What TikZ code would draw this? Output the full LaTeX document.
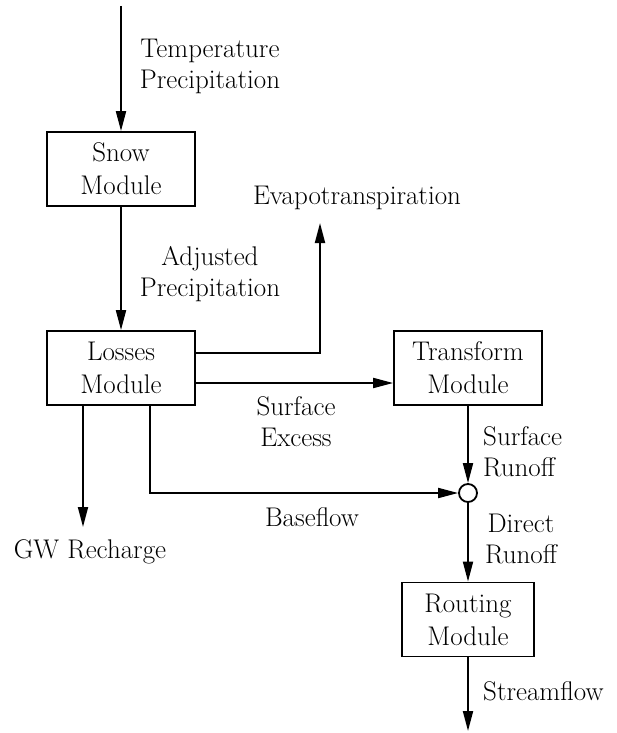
\documentclass[tikz,border=0pt]{standalone}
\usetikzlibrary{arrows.meta}
\begin{document}
\begin{tikzpicture}[x=1pt,y=-1pt,
  module/.style={draw,line width=1.8pt,minimum height=74pt,align=center,inner sep=0pt,font=\fontsize{27}{33}\selectfont},
  lbl/.style={align=center,inner sep=0pt,font=\fontsize{27}{31}\selectfont},
  arr/.style={line width=1.9pt,-{Triangle[length=20pt,width=10pt]}},
  ln/.style={line width=1.5pt}]
\useasboundingbox (0,0) rectangle (616,733);
\node[module,minimum width=148pt] (snow) at (121,169) {Snow\\Module};
\node[module,minimum width=148pt] (losses) at (121,368) {Losses\\Module};
\node[module,minimum width=148pt] (transform) at (468,368) {Transform\\Module};
\node[module,minimum width=132pt] (routing) at (468,619.5) {Routing\\Module};
\node[draw,circle,line width=1.8pt,minimum size=18pt,inner sep=0pt] (junc) at (468,493) {};
\coordinate (top) at (121,6);
\coordinate (evapend) at (320,223);
\coordinate (gwend) at (83,527);
\coordinate (streamend) at (468,731);
\node[lbl] (ltemp) at (210,66) {Temperature\\Precipitation};
\node[lbl] (ladj) at (210,274) {Adjusted\\Precipitation};
\node[lbl] (levap) at (357,198) {Evapotranspiration};
\node[lbl] (lsurfex) at (296,422) {Surface\\Excess};
\node[lbl] (lbase) at (312,517) {Baseflow};
\node[lbl] (lgw) at (90,552) {GW Recharge};
\node[lbl,align=left,anchor=west] (lsurfrun) at (483,452) {Surface\\Runoff};
\node[lbl] (ldirect) at (521,539) {Direct\\Runoff};
\node[lbl,anchor=west] (lstream) at (483,691) {Streamflow};
\draw[arr] (top) -- (snow.north);
\draw[arr] (snow.south) -- (losses.north);
\draw[arr] ([yshift=15pt]losses.east) -| (evapend);
\draw[arr] ([yshift=-15pt]losses.east) -- ([yshift=-15pt]transform.west);
\draw[arr] (transform.south) -- (junc.north);
\draw[arr] ([xshift=29pt]losses.south) |- (junc.west);
\draw[arr] ([xshift=-38pt]losses.south) -- (gwend);
\draw[arr] (junc.south) -- (routing.north);
\draw[arr] (routing.south) -- (streamend);
\end{tikzpicture}
\end{document}
